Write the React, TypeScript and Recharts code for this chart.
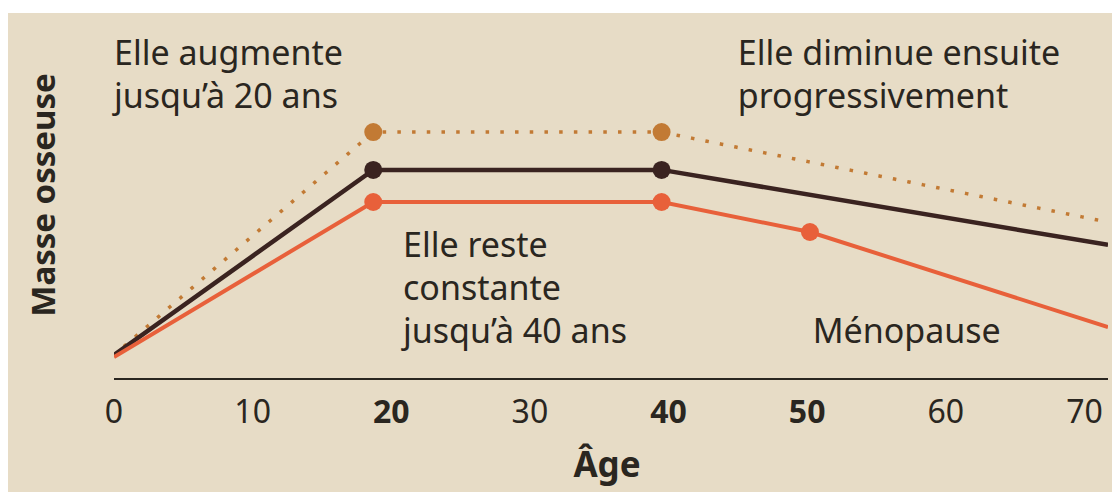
import React from "react";
import { LineChart, Line, XAxis, YAxis, ReferenceDot } from "recharts";

// Ages (x) and relative bone mass (y)
const menAges = [0, 18.7, 39.5, 71.7];
const menMass = [8, 69.7, 69.7, 44.7];
const menMarks = [false, true, true, false];

const potentialAges = [0, 18.7, 39.5, 71.7];
const potentialMass = [8, 82.3, 82.3, 52.3];
const potentialMarks = [false, true, true, false];

const womenAges = [0, 18.7, 39.5, 50.2, 71.7];
const womenMass = [7.3, 59, 59, 49, 17.3];
const womenMarks = [false, true, true, true, false];

const xTicks = [0, 10, 20, 30, 40, 50, 60, 70];
const boldTicks = [20, 40, 50];

const annotationLines = [
  ["Elle augmente", "jusqu\u2019\u00e0 20 ans"],
  ["Elle diminue ensuite", "progressivement"],
  ["Elle reste", "constante", "jusqu\u2019\u00e0 40 ans"],
  ["M\u00e9nopause"],
];
const annotationAges = [0, 45.0, 20.85, 50.4];
const annotationMass = [104.7, 104.7, 40.7, 12];

const yLabel = "Masse osseuse";
const xLabel = "\u00c2ge";

const build = (ages: number[], mass: number[], marks: boolean[]) =>
  ages.map((age, i) => ({ age, mass: mass[i], mark: marks[i] }));

const menData = build(menAges, menMass, menMarks);
const potentialData = build(potentialAges, potentialMass, potentialMarks);
const womenData = build(womenAges, womenMass, womenMarks);

const TEXT = "#2a2620";
const FONT = "'Noto Sans', sans-serif";
const ORANGE = "#e8603a";
const DARK = "#3a2320";
const GOLD = "#c27a34";

const makeDot = (color: string) => (props: any) => {
  const { cx, cy, payload, index } = props;
  if (!payload || !payload.mark) return <g key={`d-${index}`} />;
  return <circle key={`d-${index}`} cx={cx} cy={cy} r={9} fill={color} stroke="none" />;
};

const XTick = (props: any) => {
  const { x, y, payload } = props;
  const bold = boldTicks.includes(payload.value);
  return (
    <text
      x={x}
      y={y + 44}
      textAnchor="middle"
      fill={TEXT}
      fontFamily={FONT}
      fontSize={32}
      fontWeight={bold ? 700 : 400}
    >
      {payload.value}
    </text>
  );
};

export default function App() {
  return (
    <div style={{ marginTop: 5, width: 1112, height: 479, background: "#e7dcc6" }}>
      <LineChart
        width={1112}
        height={479}
        margin={{ top: 36, right: 12, bottom: 13, left: 0 }}
      >
        <XAxis
          type="number"
          dataKey="age"
          domain={[0, 71.7]}
          ticks={xTicks}
          tickSize={0}
          tickMargin={0}
          tickLine={false}
          axisLine={{ stroke: TEXT, strokeWidth: 2 }}
          tick={<XTick />}
          height={100}
          allowDataOverflow
          label={{
            content: (p: any) => {
              const vb = p.viewBox;
              return (
                <text
                  x={vb.x + vb.width / 2 - 4}
                  y={vb.y + 98}
                  textAnchor="middle"
                  fill={TEXT}
                  fontFamily={FONT}
                  fontSize={35}
                  fontWeight={700}
                >
                  {xLabel}
                </text>
              );
            },
          }}
        />
        <YAxis
          type="number"
          domain={[0, 110]}
          width={106}
          axisLine={false}
          tickLine={false}
          tick={false}
          label={{
            content: (p: any) => {
              const vb = p.viewBox;
              const cx = vb.x + 34;
              const cy = vb.y + 146;
              return (
                <text
                  x={cx}
                  y={cy}
                  transform={`rotate(-90 ${cx} ${cy})`}
                  textAnchor="middle"
                  dominantBaseline="central"
                  fill={TEXT}
                  fontFamily={FONT}
                  fontSize={33}
                  fontWeight={700}
                >
                  {yLabel}
                </text>
              );
            },
          }}
        />
        <Line
          data={potentialData}
          dataKey="mass"
          type="linear"
          stroke={GOLD}
          strokeWidth={3.5}
          strokeDasharray="0.01 14.7"
          strokeLinecap="square"
          dot={makeDot(GOLD)}
          activeDot={false}
          isAnimationActive={false}
        />
        <Line
          data={menData}
          dataKey="mass"
          type="linear"
          stroke={DARK}
          strokeWidth={4.5}
          dot={makeDot(DARK)}
          activeDot={false}
          isAnimationActive={false}
        />
        <Line
          data={womenData}
          dataKey="mass"
          type="linear"
          stroke={ORANGE}
          strokeWidth={4}
          dot={makeDot(ORANGE)}
          activeDot={false}
          isAnimationActive={false}
        />
        {annotationLines.map((lines, i) => (
          <ReferenceDot
            key={`a-${i}`}
            x={annotationAges[i]}
            y={annotationMass[i]}
            r={0}
            ifOverflow="visible"
            shape={(p: any) => (
              <text fill={TEXT} fontFamily={FONT} fontSize={34}>
                {lines.map((l, j) => (
                  <tspan key={j} x={p.cx} y={p.cy + j * 43}>
                    {l}
                  </tspan>
                ))}
              </text>
            )}
          />
        ))}
      </LineChart>
    </div>
  );
}
